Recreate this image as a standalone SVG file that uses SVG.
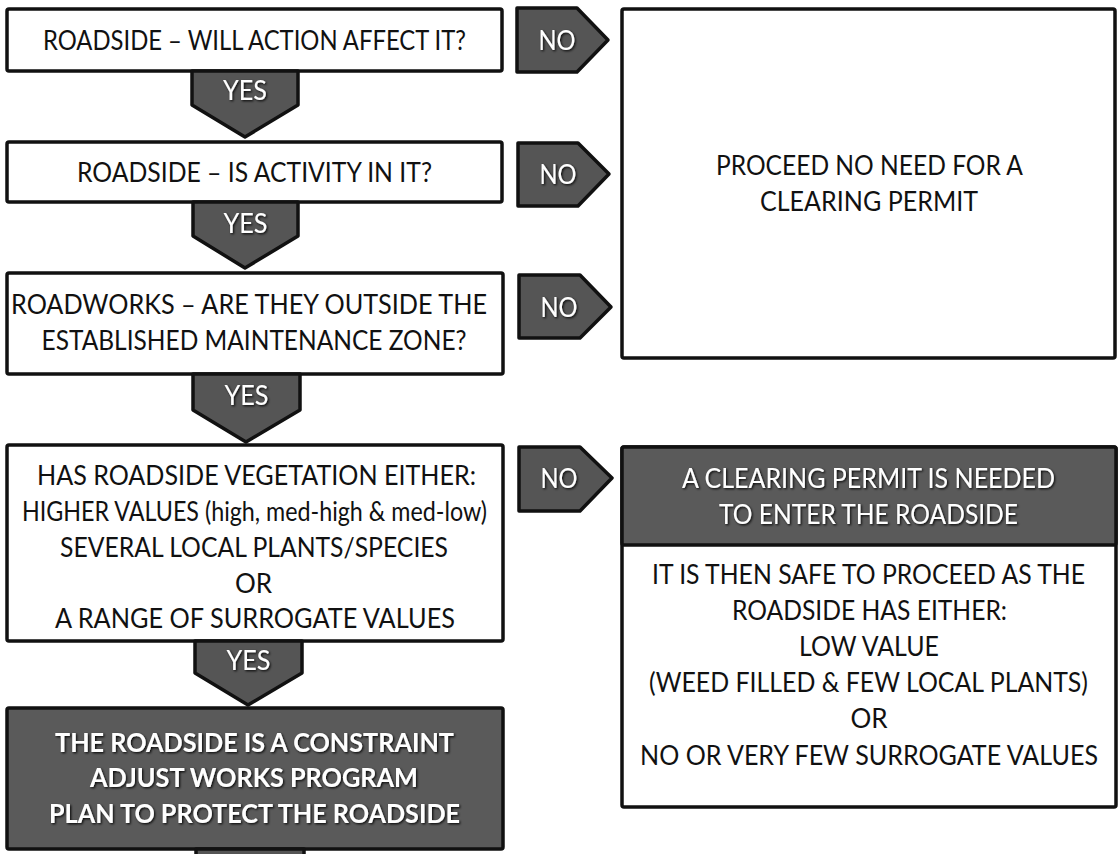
<svg xmlns="http://www.w3.org/2000/svg" width="1120" height="854" viewBox="0 0 1120 854">
<defs>
<style>
.box{fill:#fff;stroke:#111;stroke-width:3.5;stroke-linejoin:round}
.dark{fill:#5a5a5a;stroke:#111;stroke-width:3.5;stroke-linejoin:round}
.arr{fill:#555;stroke:#111;stroke-width:3.5;stroke-linejoin:round}
.t{font-family:Lato,"Liberation Sans",sans-serif;font-size:26px;fill:#111;text-anchor:middle}
.w{font-family:Lato,"Liberation Sans",sans-serif;font-size:26px;fill:#fff;text-anchor:middle;filter:url(#sh)}
.b{font-weight:bold}
</style>
<filter id="sh" x="-10%" y="-30%" width="120%" height="160%">
<feDropShadow dx="1.2" dy="1.2" stdDeviation="0.8" flood-color="#000" flood-opacity="0.9"/>
</filter>
</defs>
<rect width="1120" height="854" fill="#fff"/>

<g id="q1">
<rect class="box" x="7" y="9" width="495" height="62" rx="2"/>
<text class="t" x="254.5" y="50" textLength="423" lengthAdjust="spacingAndGlyphs">ROADSIDE – WILL ACTION AFFECT IT?</text>
</g>
<g id="q2">
<rect class="box" x="7" y="142" width="495" height="60" rx="2"/>
<text class="t" x="254.5" y="182" textLength="355" lengthAdjust="spacingAndGlyphs">ROADSIDE – IS ACTIVITY IN IT?</text>
</g>
<g id="q3">
<rect class="box" x="7" y="273" width="496" height="101" rx="2"/>
<text class="t" x="249" y="314" textLength="476" lengthAdjust="spacingAndGlyphs">ROADWORKS – ARE THEY OUTSIDE THE</text>
<text class="t" x="254" y="350" textLength="425" lengthAdjust="spacingAndGlyphs">ESTABLISHED MAINTENANCE ZONE?</text>
</g>
<g id="q4">
<rect class="box" x="7" y="445" width="496" height="196" rx="2"/>
<text class="t" x="256.5" y="485" textLength="439" lengthAdjust="spacingAndGlyphs">HAS ROADSIDE VEGETATION EITHER:</text>
<text class="t" x="254.5" y="521" textLength="465" lengthAdjust="spacingAndGlyphs">HIGHER VALUES (high, med-high &amp; med-low)</text>
<text class="t" x="254" y="557" textLength="388" lengthAdjust="spacingAndGlyphs">SEVERAL LOCAL PLANTS/SPECIES</text>
<text class="t" x="253.5" y="593">OR</text>
<text class="t" x="255" y="628" textLength="400" lengthAdjust="spacingAndGlyphs">A RANGE OF SURROGATE VALUES</text>
</g>
<g id="constraint">
<rect class="dark" x="7" y="708" width="496" height="141" rx="2"/>
<text class="w b" x="254.5" y="752" textLength="399" lengthAdjust="spacingAndGlyphs">THE ROADSIDE IS A CONSTRAINT</text>
<text class="w b" x="254" y="787" textLength="328" lengthAdjust="spacingAndGlyphs">ADJUST WORKS PROGRAM</text>
<text class="w b" x="254.5" y="823" textLength="411" lengthAdjust="spacingAndGlyphs">PLAN TO PROTECT THE ROADSIDE</text>
</g>
<g id="proceed">
<rect class="box" x="622" y="9" width="493" height="349" rx="2"/>
<text class="t" x="869.5" y="175" textLength="307" lengthAdjust="spacingAndGlyphs">PROCEED NO NEED FOR A</text>
<text class="t" x="869" y="211" textLength="218" lengthAdjust="spacingAndGlyphs">CLEARING PERMIT</text>
</g>
<g id="permit">
<rect class="box" x="622" y="447" width="494" height="360" rx="2"/>
<rect class="dark" x="622" y="447" width="494" height="98" rx="2"/>
<text class="w" x="868.5" y="488" textLength="373" lengthAdjust="spacingAndGlyphs">A CLEARING PERMIT IS NEEDED</text>
<text class="w" x="868.5" y="524" textLength="299" lengthAdjust="spacingAndGlyphs">TO ENTER THE ROADSIDE</text>
<text class="t" x="868.5" y="584" textLength="433" lengthAdjust="spacingAndGlyphs">IT IS THEN SAFE TO PROCEED AS THE</text>
<text class="t" x="869.5" y="620" textLength="275" lengthAdjust="spacingAndGlyphs">ROADSIDE HAS EITHER:</text>
<text class="t" x="869" y="656" textLength="140" lengthAdjust="spacingAndGlyphs">LOW VALUE</text>
<text class="t" x="868.5" y="692" textLength="439" lengthAdjust="spacingAndGlyphs">(WEED FILLED &amp; FEW LOCAL PLANTS)</text>
<text class="t" x="869" y="728">OR</text>
<text class="t" x="869" y="765" textLength="458" lengthAdjust="spacingAndGlyphs">NO OR VERY FEW SURROGATE VALUES</text>
</g>

<g id="connectors">
<polygon class="arr" points="192,71 298,71 298,105 245,137 192,105"/>
<text class="w" x="245" y="100" textLength="44" lengthAdjust="spacingAndGlyphs">YES</text>
<polygon class="arr" points="193,202 298,202 298,236 245,268 193,236"/>
<text class="w" x="245.5" y="233" textLength="44" lengthAdjust="spacingAndGlyphs">YES</text>
<polygon class="arr" points="193,374 300,374 300,410 246,442 193,410"/>
<text class="w" x="246.5" y="405" textLength="44" lengthAdjust="spacingAndGlyphs">YES</text>
<polygon class="arr" points="195,641 302,641 302,673 248,705 195,673"/>
<text class="w" x="248.5" y="670" textLength="44" lengthAdjust="spacingAndGlyphs">YES</text>
<polygon class="arr" points="196,849 304,849 304,882 250,914 196,882"/>
<polygon class="arr" points="517,8 577,8 608,40 577,72 517,72"/>
<text class="w" x="557" y="50" textLength="37" lengthAdjust="spacingAndGlyphs">NO</text>
<polygon class="arr" points="518,143 578,143 609,174 578,206 518,206"/>
<text class="w" x="558" y="184" textLength="37" lengthAdjust="spacingAndGlyphs">NO</text>
<polygon class="arr" points="519,275 580,275 611,307 580,338 519,338"/>
<text class="w" x="559" y="317" textLength="37" lengthAdjust="spacingAndGlyphs">NO</text>
<polygon class="arr" points="519,447 580,447 612,478 580,511 519,511"/>
<text class="w" x="559" y="488" textLength="37" lengthAdjust="spacingAndGlyphs">NO</text>
</g>
</svg>
